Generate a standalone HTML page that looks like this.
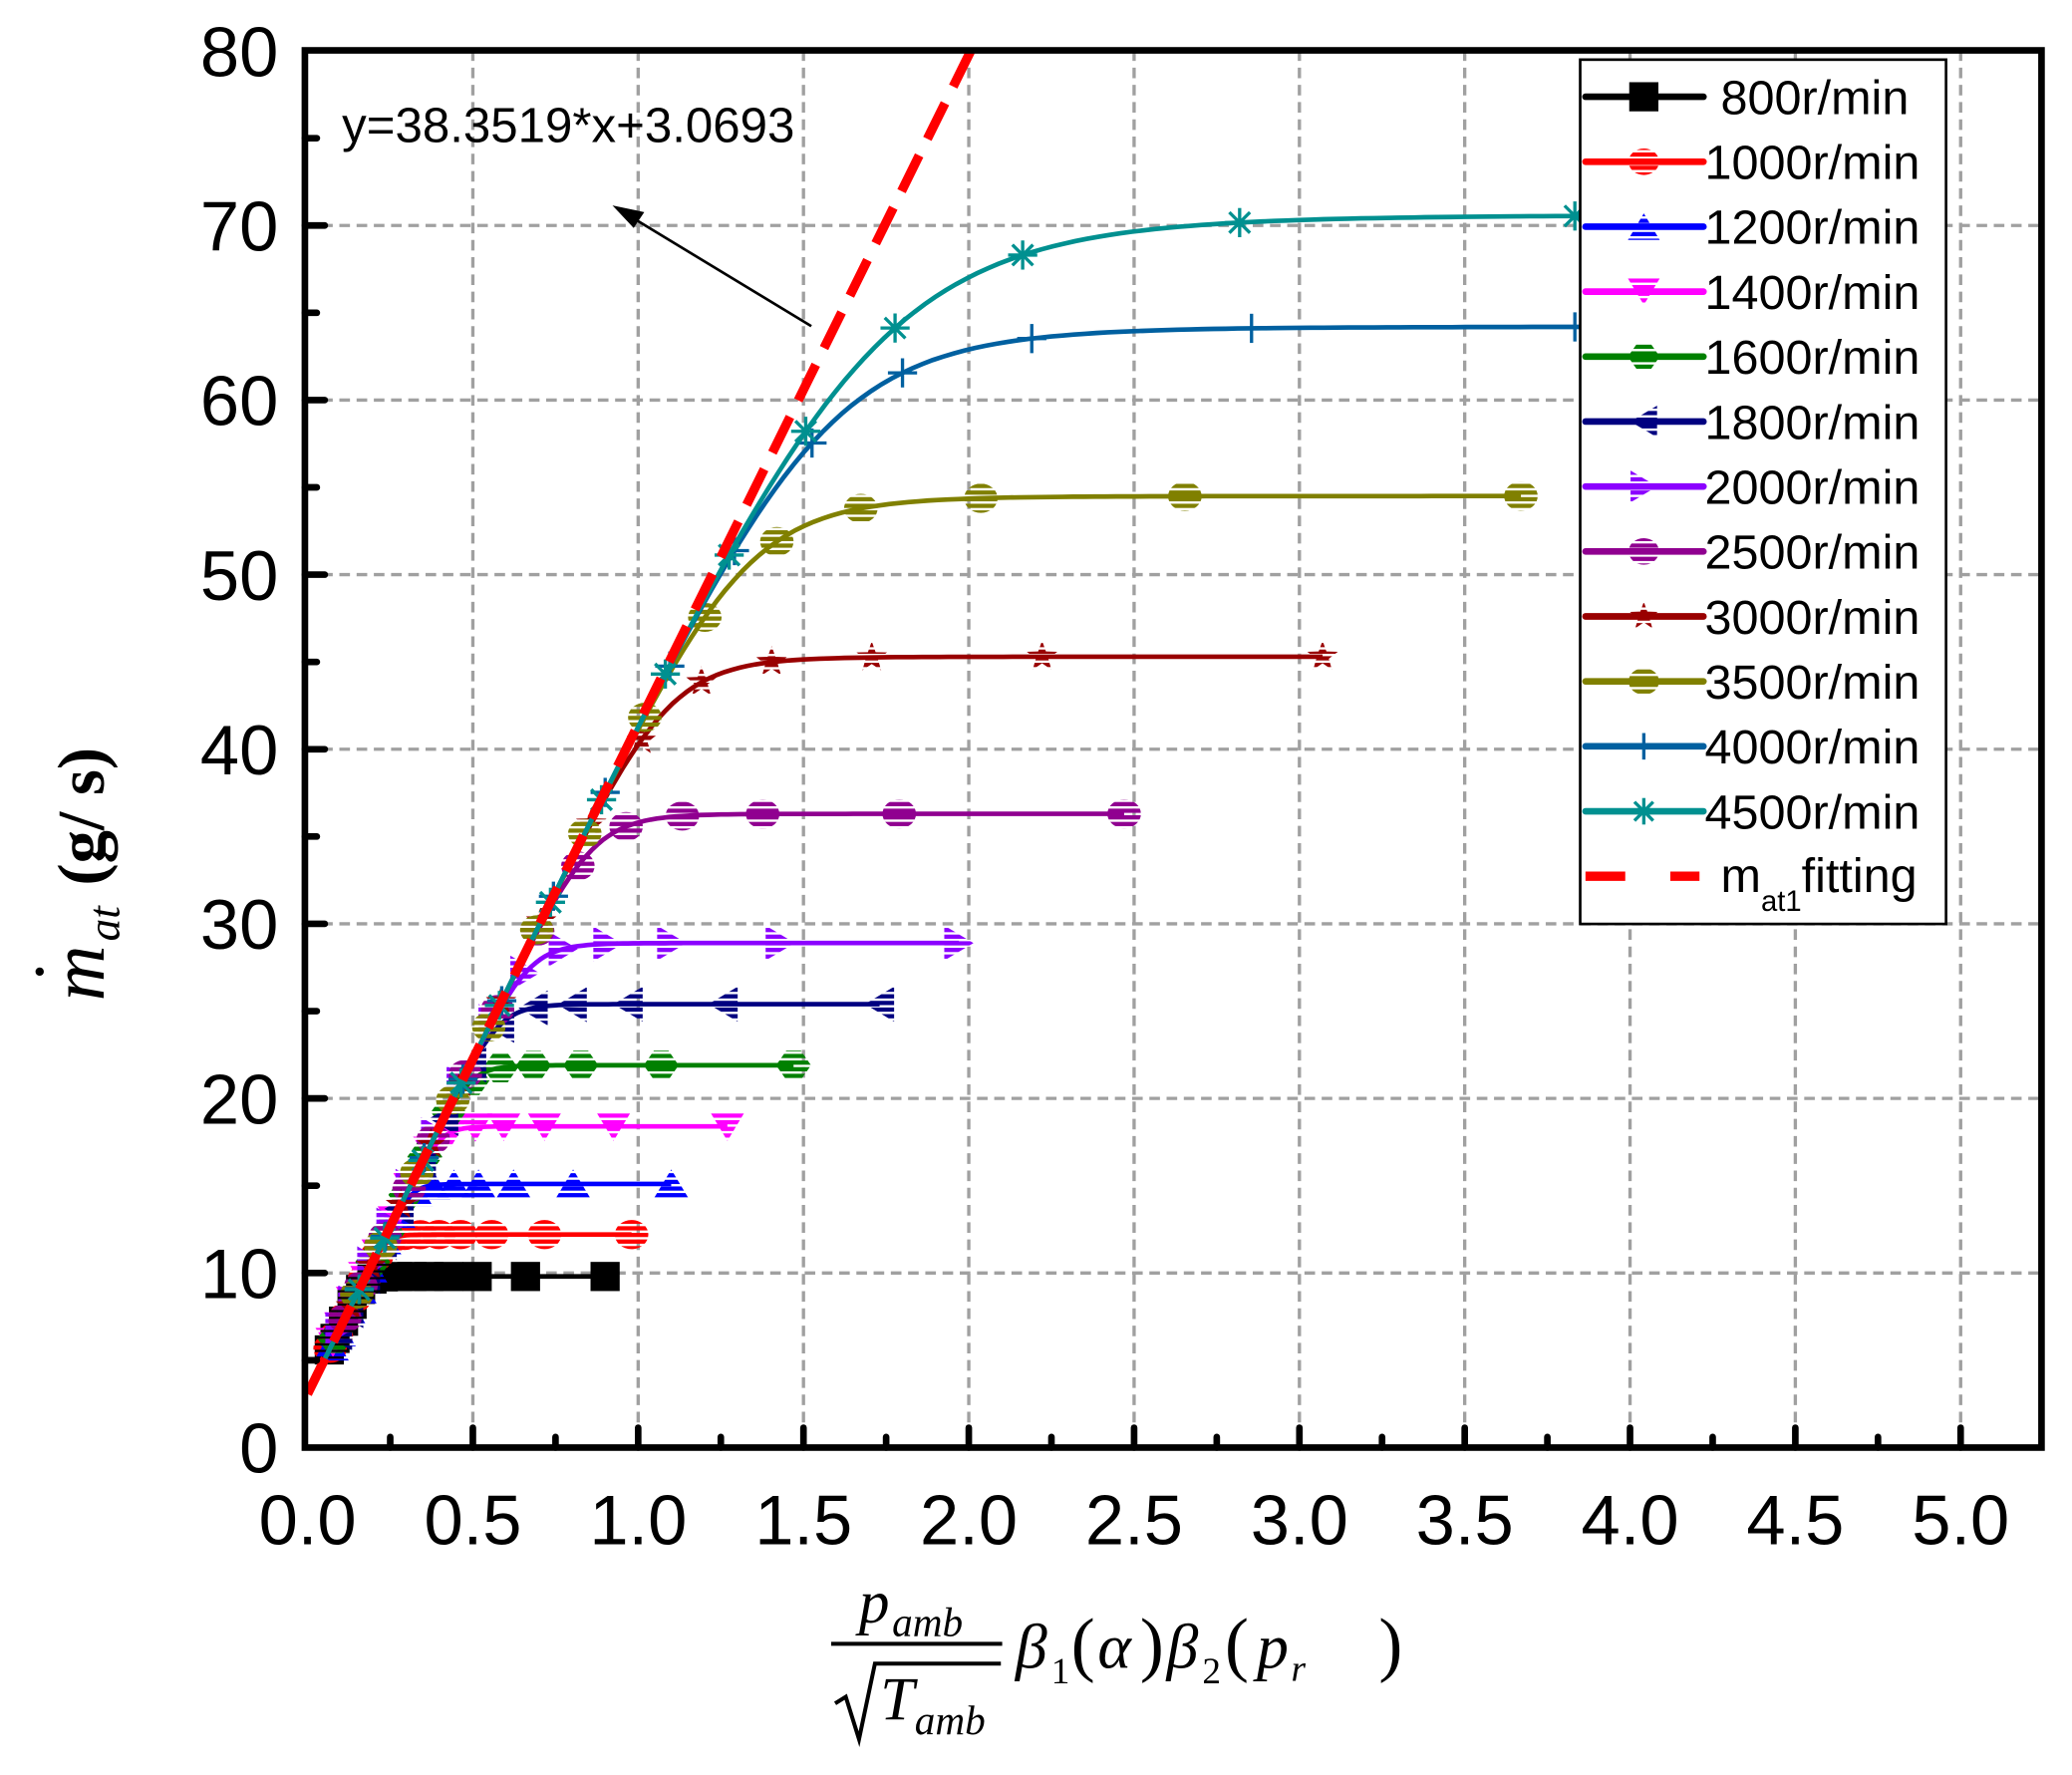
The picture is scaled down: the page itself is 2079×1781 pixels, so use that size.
<!DOCTYPE html>
<html><head><meta charset="utf-8"><style>
html,body{margin:0;padding:0;background:#fff;}
svg{display:block}
</style></head><body>
<svg id="s" xmlns="http://www.w3.org/2000/svg" width="2079" height="1781" viewBox="0 0 1563 1339" preserveAspectRatio="none">
<defs id="defs"></defs>
<rect x="0" y="0" width="1563" height="1339" fill="#fff"/>
<g id="grid" stroke="#a0a0a0" stroke-width="2.5" stroke-dasharray="8,5" fill="none"></g>
<g id="data"></g>
<g id="axes"></g>
<g id="legend"></g>
<g font-family="Liberation Sans, sans-serif" font-size="53" fill="#000" id="ticks"></g>
<text x="258" y="107" font-family="Liberation Sans, sans-serif" font-size="37">y=38.3519*x+3.0693</text>
<line x1="612" y1="246" x2="475" y2="163" stroke="#000" stroke-width="2"/>
<polygon points="462,155 486,160 478,172" fill="#000"/>
<g transform="translate(78,640) rotate(-90)" font-family="Liberation Serif, serif" fill="#000">
<text x="-115" y="0" font-size="58" font-style="italic">m</text>
<text x="-100" y="-22" font-size="42" font-weight="bold">˙</text>
<text x="-70" y="12" font-size="34" font-style="italic">at</text>
<text x="-28" y="0" font-size="50" font-weight="bold">(g/ s)</text>
</g>
<g font-family="Liberation Serif, serif" fill="#000">
<text x="648" y="1224" font-size="46" font-style="italic">p</text>
<text x="673" y="1234" font-size="31" font-style="italic">amb</text>
<line x1="627" y1="1240" x2="756" y2="1240" stroke="#000" stroke-width="3"/>
<polyline points="630,1285 638,1280 648,1312 660,1255 755,1255" fill="none" stroke="#000" stroke-width="3"/>
<text x="664" y="1297" font-size="46" font-style="italic">T</text>
<text x="690" y="1308" font-size="31" font-style="italic">amb</text>
<text x="766" y="1258" font-size="48" font-style="italic">β</text>
<text x="793" y="1270" font-size="28">1</text>
<text x="808" y="1258" font-size="54">(</text>
<text x="828" y="1258" font-size="48" font-style="italic">α</text>
<text x="860" y="1258" font-size="54">)</text>
<text x="880" y="1258" font-size="48" font-style="italic">β</text>
<text x="907" y="1270" font-size="28">2</text>
<text x="924" y="1258" font-size="54">(</text>
<text x="948" y="1258" font-size="48" font-style="italic">p</text>
<text x="974" y="1268" font-size="28" font-style="italic">r</text>
<text x="1040" y="1258" font-size="54">)</text>
</g>
<script>
(function(){
var NS="http://www.w3.org/2000/svg";
function el(t,a,p){var e=document.createElementNS(NS,t);for(var k in a)e.setAttribute(k,a[k]);if(p)p.appendChild(e);return e;}
var X0=232,XS=249.4,Y0=1092,YS=13.17;
function px(x){return X0+x*XS;} function py(y){return Y0-y*YS;}
var grid=document.getElementById('grid'),axes=document.getElementById('axes'),ticks=document.getElementById('ticks'),defs=document.getElementById('defs');
for(var i=1;i<=10;i++){var x=px(i*0.5);el('line',{x1:x,y1:38,x2:x,y2:1092},grid);}
for(var j=1;j<=7;j++){var y=py(j*10);el('line',{x1:230,y1:y,x2:1540,y2:y},grid);}
var series=[
['#000000','sq',9.8,0.9],['#ff0000','ci',12.2,0.98],['#0000ff','tu',15.1,1.1],['#ff00ff','td',18.4,1.27],
['#008000','di',21.9,1.47],['#000080','tl',25.4,1.73],['#8b00ff','tr',28.9,1.97],['#900090','ci',36.3,2.47],
['#990000','st',45.3,3.07],['#808000','ci',54.5,3.67],['#0060a0','pl',64.2,3.95],['#009090','as',70.6,3.9]];
series.forEach(function(s,i){
 var p=el('pattern',{id:'p'+i,patternUnits:'userSpaceOnUse',width:4,height:5},defs);
 el('rect',{x:0,y:0,width:4,height:3.2,fill:s[0]},p);
});
var data=document.getElementById('data');
function f(x,P){var a=38.35*x+3.07;var n=7+(70-P)/6;return Math.pow(Math.pow(a,-n)+Math.pow(P,-n),-1/n);}
function marker(g,type,cx,cy,c,i,sz){
 var r=sz||11,fill='url(#p'+i+')';
 if(type=='sq')el('rect',{x:cx-r,y:cy-r,width:2*r,height:2*r,fill:c},g);
 else if(type=='ci')el('ellipse',{cx:cx,cy:cy,rx:r*1.15,ry:r,fill:fill},g);
 else if(type=='di')el('polygon',{points:(cx-r*1.2)+','+cy+' '+(cx-r*0.5)+','+(cy-r)+' '+(cx+r*0.5)+','+(cy-r)+' '+(cx+r*1.2)+','+cy+' '+(cx+r*0.5)+','+(cy+r)+' '+(cx-r*0.5)+','+(cy+r),fill:fill},g);
 else if(type=='tu')el('polygon',{points:cx+','+(cy-r)+' '+(cx+r*1.2)+','+(cy+r)+' '+(cx-r*1.2)+','+(cy+r),fill:fill},g);
 else if(type=='td')el('polygon',{points:cx+','+(cy+r)+' '+(cx+r*1.2)+','+(cy-r)+' '+(cx-r*1.2)+','+(cy-r),fill:fill},g);
 else if(type=='tl')el('polygon',{points:(cx-r)+','+cy+' '+(cx+r)+','+(cy-r*1.2)+' '+(cx+r)+','+(cy+r*1.2),fill:fill},g);
 else if(type=='tr')el('polygon',{points:(cx+r)+','+cy+' '+(cx-r)+','+(cy-r*1.2)+' '+(cx-r)+','+(cy+r*1.2),fill:fill},g);
 else if(type=='st'){var pts=[];for(var k=0;k<10;k++){var a=-Math.PI/2+k*Math.PI/5,rr=k%2?r*0.45:r*1.1;pts.push((cx+rr*Math.cos(a))+','+(cy+rr*Math.sin(a)));}el('polygon',{points:pts.join(' '),fill:fill},g);}
 else if(type=='pl'){el('line',{x1:cx-r,y1:cy,x2:cx+r,y2:cy,stroke:c,'stroke-width':2.5},g);el('line',{x1:cx,y1:cy-r,x2:cx,y2:cy+r,stroke:c,'stroke-width':2.5},g);}
 else if(type=='as'){for(var k=0;k<4;k++){var a=k*Math.PI/4;el('line',{x1:cx-r*Math.cos(a),y1:cy-r*Math.sin(a),x2:cx+r*Math.cos(a),y2:cy+r*Math.sin(a),stroke:c,'stroke-width':2.5},g);}}
}
var fr=[0.03,0.05,0.08,0.11,0.14,0.18,0.22,0.27,0.32,0.38,0.45,0.55,0.72,1.0];
series.forEach(function(s,i){
 var g=el('g',{},data),E=s[3],P=s[2];
 var pts=[],d='';
 for(var t=0;t<=150;t++){var x=0.04+(E-0.04)*Math.pow(t/150,1.6);pts.push([x,f(x,P)]);}
 d=pts.map(function(q,k){return (k?'L':'M')+px(q[0]).toFixed(1)+','+py(q[1]).toFixed(1);}).join(' ');
 el('path',{d:d,fill:'none',stroke:s[0],'stroke-width':3.5},g);
 fr.forEach(function(q){var x=0.04+(E-0.04)*q;if(px(x)>1188)x=(1188-X0)/XS;marker(g,s[1],px(x),py(f(x,P)),s[0],i);});
});
el('line',{x1:px(0),y1:py(3.07),x2:px(2.006),y2:py(80),stroke:'#ff0000','stroke-width':7,'stroke-dasharray':'30,14'},data);
el('rect',{x:230,y:38,width:1310,height:1054,fill:'none',stroke:'#000','stroke-width':5},axes);
for(var i=0;i<=21;i++){var x=px(i*0.25),L=(i%2)?8:15;if(i>0&&x<1538)el('line',{x1:x,y1:1092,x2:x,y2:1092-L,stroke:'#000','stroke-width':5,'stroke-linecap':'round'},axes);}
for(var j=1;j<16;j++){var y=py(j*5),L=(j%2)?9:15;el('line',{x1:230,y1:y,x2:230+L,y2:y,stroke:'#000','stroke-width':5,'stroke-linecap':'round'},axes);}
for(var i=0;i<=10;i++){var t=el('text',{x:px(i*0.5),y:1165,'text-anchor':'middle'},ticks);t.textContent=(i*0.5).toFixed(1);}
for(var j=0;j<=8;j++){var t=el('text',{x:210,y:py(j*10)+19,'text-anchor':'end'},ticks);t.textContent=String(j*10);}
var lg=document.getElementById('legend');
el('rect',{x:1192,y:45,width:276,height:652,fill:'#fff',stroke:'#000','stroke-width':2},lg);
var labels=['800r/min','1000r/min','1200r/min','1400r/min','1600r/min','1800r/min','2000r/min','2500r/min','3000r/min','3500r/min','4000r/min','4500r/min'];
series.forEach(function(s,i){
 var y=73+i*49;
 el('line',{x1:1196,y1:y,x2:1285,y2:y,stroke:s[0],'stroke-width':5,'stroke-linecap':'round'},lg);
 marker(lg,s[1],1240,y,s[0],i,s[1]=='sq'?11:10);
 var t=el('text',{x:i==0?1298:1286,y:y+13,'font-family':'Liberation Sans, sans-serif','font-size':36.5},lg);t.textContent=labels[i];
});
el('line',{x1:1196,y1:661,x2:1282,y2:661,stroke:'#ff0000','stroke-width':7,'stroke-dasharray':'30,34'},lg);
var t=el('text',{x:1298,y:673,'font-family':'Liberation Sans, sans-serif','font-size':36.5},lg);
var a=el('tspan',{},t);a.textContent='m';
var b=el('tspan',{'font-size':22,dy:14},t);b.textContent='at1';
var c=el('tspan',{dy:-14},t);c.textContent='fitting';
})();
</script>
</svg>
</body></html>
